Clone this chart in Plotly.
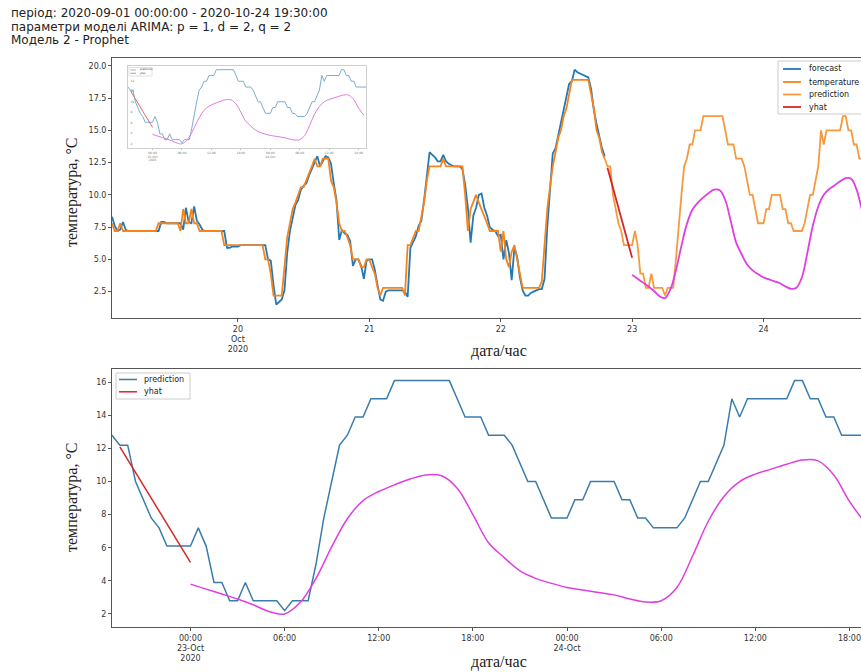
import pandas as pd
import plotly.graph_objects as go

# ---------------- data (half-hourly) ----------------
temp_oct19 = [7.8, 7.2, 7.2, 7.8, 7.2, 7.2, 7.2, 7.2, 7.2, 7.2, 7.2, 7.2, 7.2, 7.2, 7.2, 7.2,
              7.2, 7.8, 7.8, 7.8, 7.8, 7.8, 7.8, 7.8, 7.8, 7.2, 8.9, 7.8, 7.8, 8.9, 7.8, 7.8,
              7.2, 7.2, 7.2, 7.2, 7.2, 7.2, 7.2, 7.2, 7.2, 6.1, 6.1, 6.1, 6.1, 6.1]
temp_oct20 = [6.1, 6.1, 6.1, 6.1, 6.1, 6.1, 6.1, 6.1, 6.1, 6.1, 5.0, 5.0, 3.9, 2.2, 2.2, 2.2,
              2.2, 4.4, 6.7, 7.8, 8.9, 9.4, 10.0, 10.6, 10.6, 11.1, 11.7, 12.2, 12.8, 12.2, 12.2, 12.8,
              12.8, 12.8, 11.1, 10.6, 9.4, 7.8, 7.2, 7.2, 6.7, 6.1, 5.0, 5.0, 5.0, 4.4, 4.4, 5.0]
temp_oct21 = [5.0, 4.4, 3.9, 2.8, 2.2, 2.8, 2.8, 2.8, 2.8, 2.8, 2.8, 2.8, 2.8, 2.2, 6.1, 6.1,
              6.7, 7.2, 7.2, 8.3, 9.4, 11.1, 12.2, 12.2, 12.2, 12.2, 12.2, 12.8, 12.2, 12.2, 12.2, 12.2,
              12.2, 12.2, 12.2, 10.0, 7.2, 8.9, 9.4, 10.0, 9.4, 8.9, 8.3, 7.8, 7.2, 7.2, 7.2, 7.2]
temp_oct22 = [5.6, 7.2, 5.0, 4.4, 5.6, 6.1, 5.0, 3.9, 2.8, 2.8, 2.8, 2.8, 2.8, 2.8, 2.8, 3.3,
              6.1, 8.9, 10.6, 12.2, 13.3, 14.4, 15.0, 16.1, 16.7, 17.8, 18.9, 18.9, 18.9, 18.9, 18.9, 18.9,
              18.9, 17.8, 16.7, 15.0, 14.4, 13.3, 12.8]

fc_oct19 = [8.3, 7.6, 7.2, 7.3, 7.9, 7.3, 7.2, 7.2, 7.2, 7.2, 7.2, 7.2, 7.2, 7.2, 7.2, 7.2,
            7.2, 7.2, 7.9, 7.9, 7.8, 7.8, 7.8, 7.8, 7.8, 7.8, 7.3, 9.0, 7.9, 7.8, 9.1, 8.0,
            7.7, 7.3, 7.2, 7.2, 7.2, 7.2, 7.2, 7.2, 7.2, 7.2, 5.9, 5.9, 6.0, 6.0]
fc_oct20 = [6.0, 6.1, 6.1, 6.1, 6.1, 6.1, 6.1, 6.1, 6.1, 6.1, 6.1, 5.0, 4.9, 3.0, 1.5, 1.7,
            1.9, 2.6, 5.5, 7.2, 8.2, 9.2, 9.6, 10.4, 10.7, 10.9, 11.5, 12.0, 12.6, 13.0, 12.2, 12.6,
            13.0, 12.9, 12.4, 10.9, 9.6, 6.5, 7.3, 7.0, 6.9, 6.4, 4.5, 5.0, 5.0, 4.5, 3.5, 4.9]
fc_oct21 = [5.0, 5.0, 4.2, 3.0, 1.9, 1.8, 2.5, 2.6, 2.6, 2.6, 2.6, 2.6, 2.6, 2.5, 2.1, 5.9,
            6.3, 6.8, 7.6, 8.0, 9.6, 11.5, 13.3, 13.1, 12.9, 12.6, 12.6, 13.1, 12.6, 12.4, 12.3, 12.2,
            12.2, 12.2, 12.0, 10.8, 9.0, 6.3, 8.4, 9.0, 10.0, 10.1, 9.0, 8.4, 7.5, 7.3, 7.2, 6.8]
fc_oct22 = [6.9, 5.0, 6.5, 5.5, 3.4, 5.9, 5.2, 3.6, 2.6, 2.2, 2.2, 2.4, 2.5, 2.6, 2.7, 2.7,
            3.5, 7.5, 10.5, 13.2, 13.6, 14.6, 15.6, 16.8, 17.8, 18.6, 18.8, 19.7, 19.5, 19.4, 19.3, 19.2,
            19.1, 18.2, 16.6, 15.5, 14.6, 13.6, 13.0]

pred_oct22 = [12.8, 12.2, 12.2, 10.0, 8.9, 7.8, 7.2, 6.1, 6.1, 6.1]
pred_oct23 = [6.1, 7.2, 6.1, 3.9, 3.9, 2.8, 2.8, 3.9, 2.8, 2.8, 2.8, 2.8, 2.2, 2.8, 2.8, 2.8,
              5.0, 7.8, 10.0, 12.2, 12.8, 13.9, 13.9, 15.0, 15.0, 15.0, 16.1, 16.1, 16.1, 16.1, 16.1, 16.1,
              16.1, 16.1, 15.0, 13.9, 13.9, 13.9, 12.8, 12.8, 12.8, 12.2, 11.1, 10.0, 10.0, 8.9, 7.8, 7.8]
pred_oct24 = [7.8, 8.9, 8.9, 10.0, 10.0, 10.0, 10.0, 8.9, 8.9, 7.8, 7.8, 7.2, 7.2, 7.2, 7.2, 7.8,
              8.9, 10.0, 10.0, 11.1, 12.2, 15.0, 13.9, 15.0, 15.0, 15.0, 15.0, 15.0, 15.0, 16.1, 16.1, 15.0,
              15.0, 13.9, 13.9, 12.8, 12.8, 12.8, 12.8, 12.8]

yhat_arima = [12.1, 11.33, 10.56, 9.79, 9.02, 8.24, 7.46, 6.68, 5.9, 5.12]   # 22 Oct 19:30 .. 23 Oct 00:00

# Prophet yhat, hourly from 23 Oct 00:00
yhat_prophet_oct23 = [3.8, 3.5, 3.2, 2.9, 2.55, 2.15, 2.0, 2.7, 4.15, 6.05, 7.75, 8.85, 9.4, 9.8, 10.15, 10.4,
                      10.35, 9.6, 8.0, 6.3, 5.4, 4.6, 4.15, 3.85]
yhat_prophet_oct24 = [3.6, 3.45, 3.3, 3.15, 2.9, 2.72, 2.8, 3.6, 5.5, 7.6, 9.1, 10.0, 10.45, 10.75, 11.05, 11.3,
                      11.25, 10.4, 8.8, 7.5]

top_day_ticks = ["2020-10-20", "2020-10-21", "2020-10-22", "2020-10-23", "2020-10-24"]
top_day_labels = ["20<br>Oct<br>2020", "21", "22", "23", "24"]
bot_ticks = ["2020-10-23 00:00", "2020-10-23 06:00", "2020-10-23 12:00", "2020-10-23 18:00",
             "2020-10-24 00:00", "2020-10-24 06:00", "2020-10-24 12:00", "2020-10-24 18:00"]
bot_labels = ["00:00<br>23-Oct<br>2020", "06:00", "12:00", "18:00", "00:00<br>24-Oct", "06:00", "12:00", "18:00"]

title_lines = ["період: 2020-09-01 00:00:00 - 2020-10-24 19:30:00",
               "параметри моделі ARIMA: p = 1, d = 2, q = 2",
               "Модель 2 - Prophet"]
top_legend_names = ["forecast", "temperature", "prediction", "yhat"]
bot_legend_names = ["prediction", "yhat"]

# ---------------- series assembly ----------------
temperature = temp_oct19 + temp_oct20 + temp_oct21 + temp_oct22
forecast = fc_oct19 + fc_oct20 + fc_oct21 + fc_oct22
t_obs = pd.date_range("2020-10-19 01:00", periods=len(temperature), freq="30min")
prediction = pred_oct22 + pred_oct23 + pred_oct24
t_pred = pd.date_range("2020-10-22 19:00", periods=len(prediction), freq="30min")
t_yhat = pd.date_range("2020-10-22 19:30", periods=len(yhat_arima), freq="30min")
prophet = yhat_prophet_oct23 + yhat_prophet_oct24
t_prophet = pd.date_range("2020-10-23 00:00", periods=len(prophet), freq="60min")

W, H = 861, 672
BLUE, ORANGE, ORANGE2, RED, MAG = "#2478b5", "#f7841a", "#f59a3e", "#d62728", "#e03ee0"
BLUE_B = "#3a7dab"
I_BLUE, I_RED, I_MAG = "#7aaed0", "#d86a6a", "#e07ae0"

fig = go.Figure()

# top chart
fig.add_trace(go.Scatter(x=t_obs, y=forecast, name="forecast", mode="lines",
                         line=dict(color=BLUE, width=1.8), xaxis="x", yaxis="y"))
fig.add_trace(go.Scatter(x=t_obs, y=temperature, name="temperature", mode="lines",
                         line=dict(color=ORANGE, width=1.8), xaxis="x", yaxis="y"))
fig.add_trace(go.Scatter(x=t_pred, y=prediction, name="prediction", mode="lines",
                         line=dict(color=ORANGE2, width=1.8), xaxis="x", yaxis="y"))
fig.add_trace(go.Scatter(x=t_yhat, y=yhat_arima, name="yhat", mode="lines",
                         line=dict(color=RED, width=1.8), xaxis="x", yaxis="y"))
fig.add_trace(go.Scatter(x=t_prophet, y=prophet, name="prophet", mode="lines",
                         line=dict(color=MAG, width=1.8, shape="spline"), xaxis="x", yaxis="y"))

# bottom chart
fig.add_trace(go.Scatter(x=t_pred, y=prediction, name="prediction", mode="lines",
                         line=dict(color=BLUE_B, width=1.5), xaxis="x2", yaxis="y2"))
fig.add_trace(go.Scatter(x=t_yhat, y=yhat_arima, name="yhat", mode="lines",
                         line=dict(color=RED, width=1.5), xaxis="x2", yaxis="y2"))
fig.add_trace(go.Scatter(x=t_prophet, y=prophet, name="prophet", mode="lines",
                         line=dict(color=MAG, width=1.5, shape="spline"), xaxis="x2", yaxis="y2"))

# inset (thumbnail of the bottom chart)
fig.add_trace(go.Scatter(x=t_pred, y=prediction, name="prediction", mode="lines",
                         line=dict(color=I_BLUE, width=1), xaxis="x3", yaxis="y3"))
fig.add_trace(go.Scatter(x=t_yhat, y=yhat_arima, name="yhat", mode="lines",
                         line=dict(color=I_RED, width=1), xaxis="x3", yaxis="y3"))
fig.add_trace(go.Scatter(x=t_prophet, y=prophet, name="prophet", mode="lines",
                         line=dict(color=I_MAG, width=1, shape="spline"), xaxis="x3", yaxis="y3"))


def px_x(p):
    return p / W


def px_y(p):
    return 1 - p / H


TICKFONT = dict(family="DejaVu Sans", size=8, color="#333")
AX = dict(showgrid=False, zeroline=False, showline=True, linecolor="#555", linewidth=1,
          ticks="outside", ticklen=3, tickcolor="#555", tickfont=TICKFONT)

fig.update_layout(
    width=W, height=H, autosize=False, showlegend=False,
    margin=dict(l=0, r=0, t=0, b=0),
    paper_bgcolor="white", plot_bgcolor="white",
    xaxis=dict(AX, domain=[px_x(112), 1.0], anchor="y", mirror=True,
               range=["2020-10-19 01:00", "2020-10-24 17:48"],
               tickvals=top_day_ticks, ticktext=top_day_labels),
    yaxis=dict(AX, domain=[px_y(318), px_y(58)], anchor="x",
               range=[0.46, 20.6], tickvals=[2.5, 5, 7.5, 10, 12.5, 15, 17.5, 20], tickformat=".1f"),
    xaxis2=dict(AX, domain=[px_x(112), 1.0], anchor="y2", mirror=True, ticklabeloverflow="allow",
                range=["2020-10-22 19:00", "2020-10-24 18:44"],
                tickvals=bot_ticks, ticktext=bot_labels),
    yaxis2=dict(AX, domain=[px_y(627), px_y(369)], anchor="x2",
                range=[1.21, 16.8], tickvals=[2, 4, 6, 8, 10, 12, 14, 16]),
    xaxis3=dict(showgrid=False, zeroline=False, showline=True, linecolor="#cfcfcf", linewidth=1,
                mirror=True, ticks="outside", ticklen=1, tickcolor="#bbb",
                tickfont=dict(family="DejaVu Sans", size=3, color="#777"),
                domain=[px_x(128), px_x(366)], anchor="y3",
                range=["2020-10-22 19:00", "2020-10-24 19:30"],
                tickvals=bot_ticks, ticktext=bot_labels),
    yaxis3=dict(showgrid=False, zeroline=False, showline=True, linecolor="#cfcfcf", linewidth=1,
                mirror=True, ticks="", ticklabelposition="inside",
                tickfont=dict(family="DejaVu Sans", size=3, color="#777"),
                domain=[px_y(148), px_y(66)], anchor="x3",
                range=[1.21, 16.8], tickvals=[2, 4, 6, 8, 10, 12, 14, 16]),
)

shapes = []
annotations = []


def draw_legend(names, colors, box, line_x, text_x, ys, fsize, lw, border):
    x0, y0, x1, y1 = box
    shapes.append(dict(type="rect", xref="paper", yref="paper", layer="above",
                       x0=px_x(x0), x1=px_x(x1), y0=px_y(y1), y1=px_y(y0),
                       line=dict(color=border, width=1), fillcolor="rgba(255,255,255,0.85)"))
    for name, col, yy in zip(names, colors, ys):
        shapes.append(dict(type="line", xref="paper", yref="paper", layer="above",
                           x0=px_x(line_x[0]), x1=px_x(line_x[1]), y0=px_y(yy), y1=px_y(yy),
                           line=dict(color=col, width=lw)))
        annotations.append(dict(text=name, x=px_x(text_x), y=px_y(yy), xref="paper", yref="paper",
                                xanchor="left", yanchor="middle", showarrow=False,
                                font=dict(family="DejaVu Sans", size=fsize, color="#222")))


draw_legend(top_legend_names, [BLUE, ORANGE, ORANGE2, RED], (778, 61, 880, 114), (783, 801), 807,
            [69, 82, 94.5, 107], 8, 1.8, "#cccccc")
draw_legend(bot_legend_names, [BLUE_B, RED], (116, 373, 190, 399), (119, 137), 142,
            [379.5, 391.8], 8, 1.5, "#cccccc")
draw_legend(bot_legend_names, [I_BLUE, I_RED], (129, 67.5, 152, 76), (130.5, 136), 137.5,
            [70, 73.3], 2.5, 0.8, "#e0e0e0")

for i, line in enumerate(title_lines):
    annotations.append(dict(text=line, x=px_x(9), y=px_y(13 + i * 13.5), xref="paper", yref="paper",
                            xanchor="left", yanchor="middle", showarrow=False,
                            font=dict(family="DejaVu Sans", size=12, color="#222")))
for yc in (192, 497):
    annotations.append(dict(text="температура, °C", x=px_x(72), y=px_y(yc), xref="paper", yref="paper",
                            textangle=-90, showarrow=False, xanchor="center", yanchor="middle",
                            font=dict(family="Liberation Serif", size=16, color="#222")))
for yc in (351, 662):
    annotations.append(dict(text="дата/час", x=px_x(499), y=px_y(yc), xref="paper", yref="paper",
                            showarrow=False, xanchor="center", yanchor="middle",
                            font=dict(family="Liberation Serif", size=16, color="#222")))
fig.update_layout(shapes=shapes, annotations=annotations)

fig.write_html("out.html")
